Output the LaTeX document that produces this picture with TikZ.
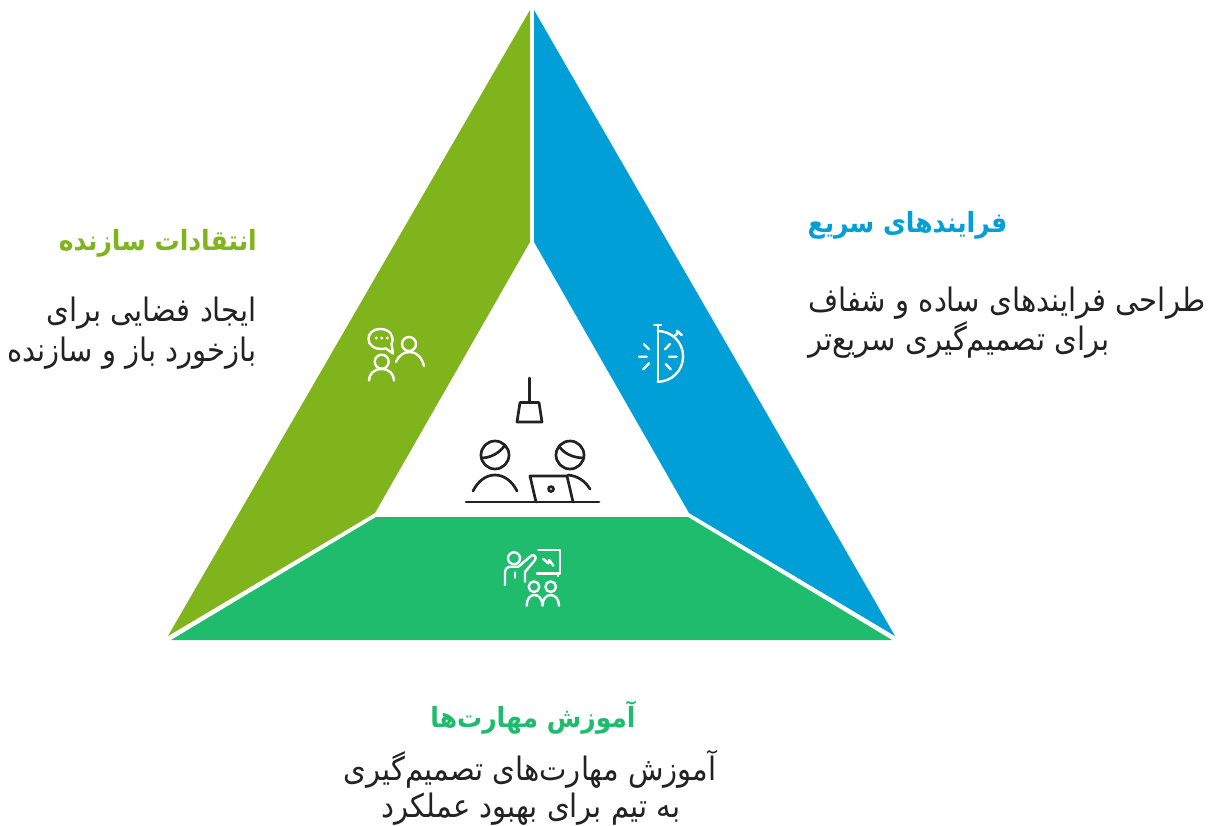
\documentclass[tikz,border=0pt]{standalone}
\usepackage{fontspec}
\TeXXeTstate=1
\newfontfamily\fa[Script=Arabic,FakeStretch=0.9]{DejaVu Sans}
\definecolor{olive}{HTML}{7FB41C}
\definecolor{skyb}{HTML}{019FD7}
\definecolor{emer}{HTML}{1FBC6E}
\definecolor{ink}{HTML}{222222}
\tikzset{
  ttl/.style={inner sep=0pt,font=\fa\bfseries\fontsize{27.8}{32}\selectfont},
  bodyt/.style={inner sep=0pt,text=ink,font=\fa\fontsize{32.3}{36}\selectfont},
  ico/.style={draw=white,line width=2.4pt,line cap=round,line join=round},
  dark/.style={draw=ink,line width=2.7pt,line cap=round,line join=round}
}
\begin{document}
\begin{tikzpicture}[x=1pt,y=-1pt]
\useasboundingbox[fill=white] (0,0) rectangle (1216,825);
% segments
\fill[olive] (530,10) -- (530,242) -- (375,513) -- (168,636) -- cycle;
\fill[skyb] (534,10) -- (534,242) -- (689,513) -- (895,636) -- cycle;
\fill[emer] (376,517) -- (688,517) -- (892,640) -- (171,640) -- cycle;
% centre icon
\draw[dark] (529.5,378) -- (529.5,402);
\draw[dark] (520,402.5) -- (539,402.5) -- (542,422) -- (517,422) -- cycle;
\draw[dark] (495,455) circle (14);
\draw[dark] (481.5,458) .. controls (490,458) and (500,453) .. (505,445);
\draw[dark] (473,491) .. controls (478,481) and (486,475) .. (495,475) .. controls (504,475) and (512,481) .. (517,491);
\draw[dark] (570,455) circle (14);
\draw[dark] (559,446) .. controls (563,453) and (573,458) .. (584,458);
\draw[dark] (568,475) .. controls (578,476) and (585,481) .. (590,489);
\draw[dark] (536,502) -- (530,476) -- (567,476) -- (573,502);
\draw[dark] (551,489) circle (2.5);
\draw[dark] (466,502) -- (599,502);
% chat icon
\draw[ico] (386,348.5) -- (393,353.5) -- (391.5,344) .. controls (395,337) and (390,329) .. (380.7,329) .. controls (372,329) and (368.5,334) .. (368.5,339) .. controls (368.5,345) and (374,349) .. (381,349) -- cycle;
\fill[white] (376.2,338) circle (1.6) (381.7,338) circle (1.6) (387.2,338) circle (1.6);
\draw[ico] (409,344) circle (7);
\draw[ico] (396,362) .. controls (399,355) and (404,352) .. (410,352) .. controls (417,352) and (422,358) .. (424,366);
\draw[ico] (381.7,361.7) circle (7);
\draw[ico] (369,380.5) .. controls (369,374) and (374,369) .. (381.7,369) .. controls (389,369) and (394,374) .. (394,380.5);
% timer icon
\draw[ico] (657.7,325) -- (657.7,381.7);
\draw[ico] (654.3,325) -- (661,325);
\draw[ico] (657.7,331) arc[start angle=-90,end angle=90,radius=25.4];
\draw[ico] (665,349.3) -- (670,344) (669,356.7) -- (676.7,356.7) (665.7,364) -- (670.7,369.3);
\draw[ico] (644,344.3) -- (649,349.3) (639,356.7) -- (646.7,356.7) (643.3,369.3) -- (649,363.3);
\draw[ico] (675,335.7) -- (679,332) (676.7,330.7) -- (681.7,335);
% teaching icon
\draw[ico] (514,558.3) circle (6);
\draw[ico] (505,585) -- (505,573) .. controls (505,569) and (507,566.7) .. (511,566.7) -- (518.3,566.7) -- (531.5,555.5) .. controls (534,554) and (537,557) .. (535,560) -- (525,572) -- (525,581.7);
\draw[ico] (515,572.5) -- (515,577.7);
\draw[ico] (538.3,550) -- (560,550) -- (560,573.3) -- (537,573.3);
\draw[ico] (558,573.3) -- (558,576);
\draw[ico] (543.3,559) -- (548.3,563.3) -- (549.3,560) -- (553.3,565.7);
\draw[ico] (534,586.7) circle (5.3);
\draw[ico] (550.7,586.7) circle (5.3);
\draw[ico] (526.7,605.7) .. controls (526.7,599) and (530,595) .. (534.5,595) .. controls (539,595) and (542.3,599) .. (542.5,605.7) .. controls (542.7,599) and (546,595) .. (550.7,595) .. controls (555,595) and (559,599) .. (559,605.7);
% texts
\node[ttl,text=skyb,anchor=base] (t1) at (907.5,232) {\beginR فرایندهای سریع\endR};
\node[bodyt,anchor=base west] (b1a) at (808,311) {\beginR طراحی فرایندهای ساده و شفاف\endR};
\node[bodyt,anchor=base west] (b1b) at (808,350) {\beginR برای تصمیم‌گیری سریع‌تر\endR};
\node[ttl,text=olive,anchor=base east] (t2) at (257,250) {\beginR انتقادات سازنده\endR};
\node[bodyt,anchor=base east] (b2a) at (257,321) {\beginR ایجاد فضایی برای\endR};
\node[bodyt,anchor=base east] (b2b) at (257,361) {\beginR بازخورد باز و سازنده\endR};
\node[ttl,text=emer,anchor=base] (t3) at (533,727) {\beginR آموزش مهارت‌ها\endR};
\node[bodyt,anchor=base] (b3a) at (530,780) {\beginR آموزش مهارت‌های تصمیم‌گیری\endR};
\node[bodyt,anchor=base] (b3b) at (531,817) {\beginR به تیم برای بهبود عملکرد\endR};
\end{tikzpicture}
\end{document}
